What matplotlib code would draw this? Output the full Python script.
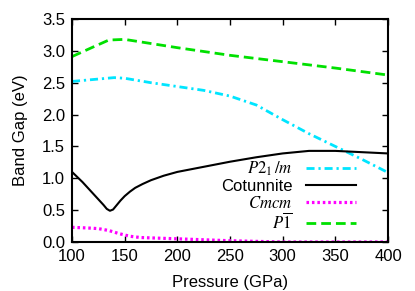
import matplotlib
matplotlib.use('Agg')
import matplotlib.pyplot as plt

plt.rcParams['font.family'] = ['Liberation Sans', 'DejaVu Sans']
plt.rcParams['mathtext.fontset'] = 'stix'

# Давление (ГПа) и ширина запрещённой зоны (эВ)
p_p21m = [100, 120, 140, 150, 175, 200, 225, 250, 275, 300, 325, 350, 375, 400]
gap_p21m = [2.52, 2.55, 2.58, 2.57, 2.50, 2.44, 2.38, 2.29, 2.15, 1.92, 1.70, 1.50, 1.30, 1.09]

p_cot = [100, 105, 110, 115, 120, 125, 130, 133, 136, 139, 142, 146, 150, 155, 160, 167, 175, 187,
         200, 225, 250, 275, 300, 325, 350, 375, 400]
gap_cot = [1.10, 1.02, 0.94, 0.85, 0.76, 0.67, 0.58, 0.52, 0.49, 0.51, 0.57, 0.65, 0.72, 0.79, 0.85, 0.91,
           0.97, 1.04, 1.10, 1.18, 1.26, 1.33, 1.39, 1.43, 1.43, 1.41, 1.39]

p_cmcm = [100, 115, 125, 135, 145, 155, 165, 200, 250, 300, 350, 400]
gap_cmcm = [0.23, 0.22, 0.21, 0.18, 0.13, 0.09, 0.07, 0.05, 0.02, 0.0, 0.0, 0.0]

p_p1 = [100, 120, 135, 150, 200, 250, 300, 350, 400]
gap_p1 = [2.91, 3.06, 3.17, 3.18, 3.05, 2.93, 2.83, 2.73, 2.62]


def main():
    fig = plt.figure(figsize=(4.15, 2.91), dpi=100)
    ax = fig.add_axes([72 / 415, 1 - 242 / 291, 316 / 415, 223 / 291])
    ax.plot(p_p21m, gap_p21m, color='#00e5ff', lw=2, dashes=(2.9, 1.4, 0.8, 1.4), label=r'$P2_1\,/m$')
    ax.plot(p_cot, gap_cot, color='black', lw=1.5, label='Cotunnite')
    ax.plot(p_cmcm, gap_cmcm, color='#ff00ff', lw=2.3, dashes=(0.8, 0.9), label=r'$Cmcm$')
    ax.plot(p_p1, gap_p1, color='#00e000', lw=2, dashes=(3.5, 1.8), label=r'$P\overline{1}$')
    ax.set_xlim(100, 400)
    ax.set_ylim(0, 3.5)
    ax.set_xticks(range(100, 401, 50))
    ax.set_yticks([0, 0.5, 1, 1.5, 2, 2.5, 3, 3.5])
    ax.set_yticklabels(['0.0', '0.5', '1.0', '1.5', '2.0', '2.5', '3.0', '3.5'])
    ax.tick_params(direction='in', top=True, right=True, labelsize=12, length=4, width=1, pad=5)
    for s in ax.spines.values():
        s.set_linewidth(1.5)
    ax.set_xlabel('Pressure (GPa)', fontsize=12, labelpad=8)
    ax.set_ylabel('Band Gap (eV)', fontsize=12, labelpad=10)
    ax.legend(loc='lower right', frameon=False, markerfirst=False, fontsize=12,
              handlelength=3.0, handletextpad=0.8, labelspacing=0.05,
              borderaxespad=0.2, bbox_to_anchor=(0.93, 0.0))
    fig.savefig('out.png', dpi=100)


if __name__ == '__main__':
    main()
